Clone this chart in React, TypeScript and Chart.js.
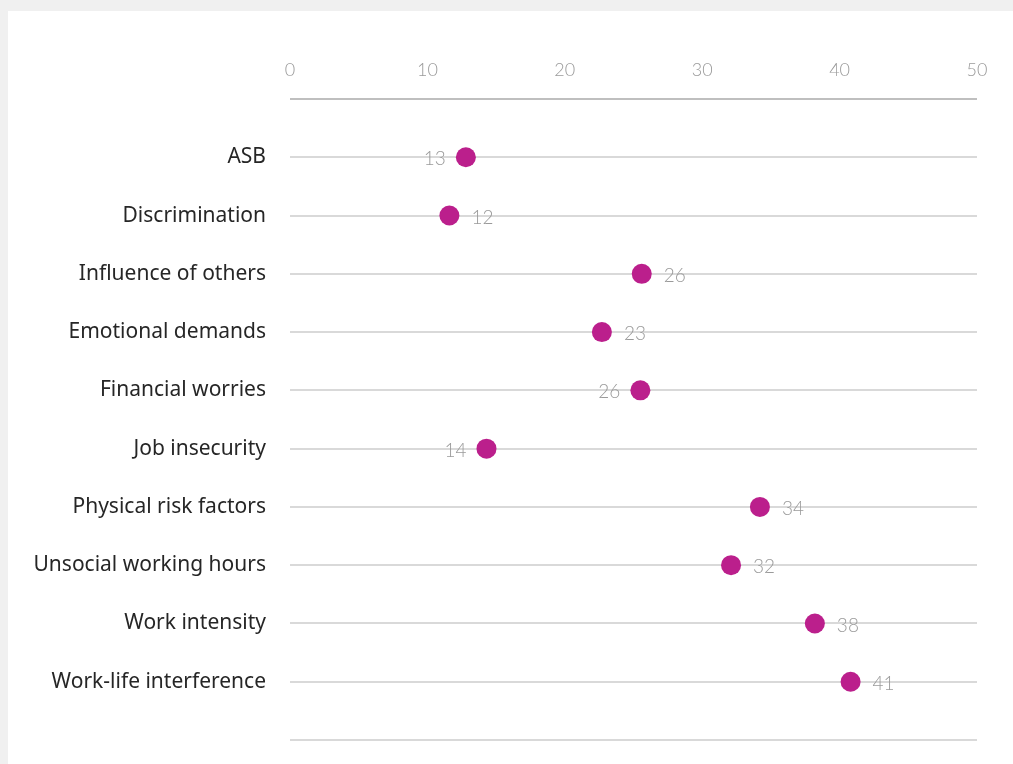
import React, { useEffect, useRef } from "react";
import { Chart, registerables } from "chart.js";

Chart.register(...registerables);

const categories = [
  "ASB",
  "Discrimination",
  "Influence of others",
  "Emotional demands",
  "Financial worries",
  "Job insecurity",
  "Physical risk factors",
  "Unsocial working hours",
  "Work intensity",
  "Work-life interference",
];
const values = [12.8, 11.6, 25.6, 22.7, 25.5, 14.3, 34.2, 32.1, 38.2, 40.8];
const labelSides = ["left", "right", "right", "right", "left", "left", "right", "right", "right", "right"];
const xTicks = [0, 10, 20, 30, 40, 50];

const DOT = "#bb1f8c";
const TICK_FONT = "Lato, 'DejaVu Sans', sans-serif";

const labelPlugin = {
  id: "pointLabels",
  afterDatasetsDraw(chart: any) {
    const ctx = chart.ctx;
    const meta = chart.getDatasetMeta(0);
    ctx.save();
    ctx.font = `300 19px ${TICK_FONT}`;
    ctx.fillStyle = "#9a9a9a";
    ctx.textBaseline = "middle";
    meta.data.forEach((pt: any, i: number) => {
      const txt = String(Math.round(values[i]));
      if (labelSides[i] === "left") {
        ctx.textAlign = "right";
        ctx.fillText(txt, pt.x - 20, pt.y + 2);
      } else {
        ctx.textAlign = "left";
        ctx.fillText(txt, pt.x + 22, pt.y + 2);
      }
    });
    ctx.restore();
  },
};

export default function App() {
  const ref = useRef<HTMLCanvasElement | null>(null);
  useEffect(() => {
    document.body.style.background = "#f0f0f0";
    document.body.style.overflow = "hidden";
    const chart = new Chart(ref.current!, {
      type: "scatter",
      data: {
        datasets: [
          {
            data: values.map((v, i) => ({ x: v, y: i + 1 })),
            backgroundColor: DOT,
            borderColor: DOT,
            pointRadius: 10,
            pointHoverRadius: 10,
            borderWidth: 0,
          },
        ],
      },
      plugins: [labelPlugin],
      options: {
        animation: false,
        responsive: false,
        layout: { padding: { top: 0, right: 36, bottom: 24, left: 0 } },
        plugins: { legend: { display: false }, tooltip: { enabled: false } },
        scales: {
          x: {
            type: "linear",
            position: "top",
            min: 0,
            max: 50,
            afterBuildTicks: (axis: any) => {
              axis.ticks = xTicks.map((v) => ({ value: v }));
            },
            grid: { display: false, drawTicks: false },
            border: { display: false },
            ticks: {
              padding: 18,
              color: "#9a9a9a",
              font: { family: TICK_FONT, size: 18, weight: "300" as any },
            },
            afterFit: (axis: any) => {
              axis.height = 88;
              axis.paddingLeft = 0;
              axis.paddingRight = 0;
            },
          },
          y: {
            type: "linear",
            reverse: true,
            min: 0,
            max: 11,
            afterBuildTicks: (axis: any) => {
              axis.ticks = Array.from({ length: 12 }, (_, i) => ({ value: i }));
            },
            grid: {
              drawTicks: false,
              color: (c: any) => (c.tick && c.tick.value === 0 ? "#bfbfbf" : "#d9d9d9"),
              lineWidth: 2,
            },
            border: { display: false },
            ticks: {
              autoSkip: false,
              padding: 24,
              color: "#262626",
              font: { family: "'Noto Sans', sans-serif", size: 21 },
              callback: (v: any) => (v >= 1 && v <= 10 ? categories[v - 1] : ""),
            },
            afterFit: (axis: any) => {
              axis.width = 282;
              axis.paddingTop = 0;
              axis.paddingBottom = 0;
            },
          },
        },
      },
    });
    return () => chart.destroy();
  }, []);
  return (
    <div style={{ position: "fixed", left: 8, top: 11, width: 1005, height: 753, background: "#ffffff" }}>
      <canvas ref={ref} width={1005} height={753} style={{ display: "block" }} />
    </div>
  );
}
